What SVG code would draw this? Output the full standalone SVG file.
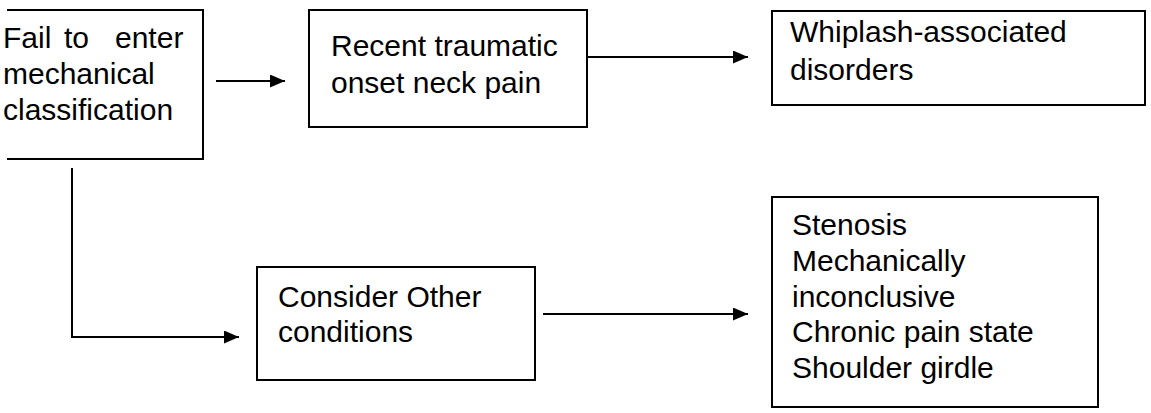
<svg xmlns="http://www.w3.org/2000/svg" width="1151" height="413" viewBox="0 0 1151 413">
<style>
.box{fill:none;stroke:#000;stroke-width:2}
.ln{fill:none;stroke:#000;stroke-width:2}
text{font-family:"Liberation Sans",Arial,sans-serif;font-size:30px;fill:#000}
</style>
<defs>
<marker id="ah" markerUnits="userSpaceOnUse" markerWidth="16" markerHeight="14" refX="15" refY="6.5" orient="auto">
<path d="M0,0 L15,6.5 L0,13 Z" fill="#000"/>
</marker>
</defs>
<rect width="1151" height="413" fill="#fff"/>
<g id="n1">
<path class="box" d="M7,10 H203 V159 H7"/>
<text y="48"><tspan x="3">Fail</tspan><tspan x="64">to</tspan><tspan x="115">enter</tspan></text>
<text x="3" y="84">mechanical</text>
<text x="3" y="120">classification</text>
</g>
<g id="n2">
<rect class="box" x="309" y="10" width="278" height="117"/>
<text x="331" y="56">Recent traumatic</text>
<text x="331" y="93">onset neck pain</text>
</g>
<g id="n3">
<rect class="box" x="772" y="11" width="373" height="94"/>
<text x="790" y="42">Whiplash-associated</text>
<text x="790" y="80">disorders</text>
</g>
<g id="n4">
<rect class="box" x="257" y="267" width="278" height="113"/>
<text x="278" y="307">Consider Other</text>
<text x="278" y="342">conditions</text>
</g>
<g id="n5">
<rect class="box" x="772" y="197" width="326" height="210"/>
<text x="792" y="235">Stenosis</text>
<text x="792" y="271">Mechanically</text>
<text x="792" y="307">inconclusive</text>
<text x="792" y="342">Chronic pain state</text>
<text x="792" y="378">Shoulder girdle</text>
</g>
<g id="connectors">
<line class="ln" x1="216" y1="81" x2="285" y2="81" marker-end="url(#ah)"/>
<line class="ln" x1="587" y1="57" x2="748" y2="57" marker-end="url(#ah)"/>
<path class="ln" d="M72,168 V337 H239" marker-end="url(#ah)"/>
<line class="ln" x1="543" y1="314" x2="748" y2="314" marker-end="url(#ah)"/>
</g>
</svg>
